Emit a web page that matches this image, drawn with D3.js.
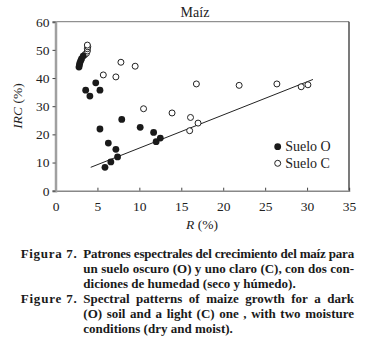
<!DOCTYPE html>
<html>
<head>
<meta charset="utf-8">
<script src="https://cdn.jsdelivr.net/npm/d3@7"></script>
<style>
  body { margin: 0; background: #fff; }
  svg text { font-family: "Liberation Serif", "DejaVu Serif", serif; }
</style>
</head>
<body>
<svg class="chart" width="365" height="345"></svg>
<script>
// Suelo O (filled)
var soilO_R   = [2.8, 2.85, 2.9, 3.0, 3.1, 3.3, 3.6, 4.1, 4.8, 5.3, 5.3, 7.9, 10.1, 11.7, 12.0, 12.5, 6.3, 7.2, 7.4, 6.6, 5.9]
var soilO_IRC = [43.9, 44.6, 45.3, 46.1, 46.8, 47.8, 35.7, 33.6, 38.3, 35.7, 21.9, 25.3, 22.5, 20.7, 17.4, 18.7, 16.9, 14.7, 12.0, 10.2, 8.3]
// Suelo C (open)
var soilC_R   = [3.5, 3.7, 3.8, 3.8, 3.85, 3.8, 5.7, 7.2, 7.8, 9.5, 16.8, 21.9, 26.4, 29.3, 30.1, 10.5, 13.9, 16.1, 16.0, 17.0]
var soilC_IRC = [48.3, 48.8, 49.6, 50.4, 51.1, 51.7, 41.1, 40.4, 45.6, 44.2, 37.9, 37.4, 37.9, 36.9, 37.6, 29.1, 27.6, 26.0, 21.3, 24.0]
// fitted line end points
var fitR   = [4.2, 30.7]
var fitIRC = [8.3, 39.5]

var xTicks = [0, 5, 10, 15, 20, 25, 30, 35]
var yTicks = [0, 10, 20, 30, 40, 50, 60]

var captionES = ["Patrones espectrales del crecimiento del maíz para",
                 "un suelo oscuro (O) y uno claro (C), con dos con-",
                 "diciones de humedad (seco y húmedo)."]
var captionEN = ["Spectral patterns of maize growth for a dark",
                 "(O) soil and a light (C) one , with two moisture",
                 "conditions (dry and moist)."]

var serif = "'Liberation Serif', 'DejaVu Serif', serif"

var margin = {top: 21.7, left: 55.5}
  , width = 293.5
  , height = 169

var svg = d3.select(".chart")
var g = svg.append("g")
  .attr("transform", "translate(" + margin.left + "," + margin.top + ")")

var x = d3.scaleLinear().domain([0, 35]).range([0, width])
var y = d3.scaleLinear().domain([0, 60]).range([height, 0])

// frame
g.append("line").attr("x1", 0).attr("x2", width).attr("y1", 0).attr("y2", 0)
  .attr("stroke", "#777").attr("stroke-width", 1)
g.append("line").attr("x1", width).attr("x2", width).attr("y1", 0).attr("y2", height)
  .attr("stroke", "#222").attr("stroke-width", 1.2)

// x axis, ticks pointing inside
var xAxis = g.append("g")
  .attr("transform", "translate(0," + height + ")")
  .call(d3.axisBottom(x).tickValues(xTicks).tickSize(-3).tickPadding(11))
xAxis.attr("font-family", serif).attr("font-size", 13.5)
xAxis.select(".domain").attr("stroke", "#888").attr("stroke-width", 1.5)
xAxis.selectAll(".tick line").attr("stroke", "#444")
xAxis.selectAll("text").attr("fill", "#222")

// y axis
var yAxis = g.append("g")
  .call(d3.axisLeft(y).tickValues(yTicks).tickSize(3).tickPadding(3))
yAxis.attr("font-family", serif).attr("font-size", 13.5)
yAxis.select(".domain").attr("stroke", "#a0a0a0").attr("stroke-width", 2.5)
yAxis.selectAll(".tick line").attr("stroke", "#444")
yAxis.selectAll("text").attr("fill", "#222")

// labels
svg.append("text")
  .attr("x", 195).attr("y", 16.5)
  .attr("text-anchor", "middle")
  .attr("font-family", serif)
  .attr("font-size", 14).attr("fill", "#222")
  .text("Maíz")

var ylab = svg.append("text")
  .attr("transform", "translate(22,106) rotate(-90)")
  .attr("text-anchor", "middle")
  .attr("font-family", serif)
  .attr("font-size", 13.5).attr("fill", "#222")
ylab.append("tspan").attr("font-style", "italic").text("IRC")
ylab.append("tspan").text(" (%)")

var xlab = svg.append("text")
  .attr("x", 202).attr("y", 229)
  .attr("text-anchor", "middle")
  .attr("font-family", serif)
  .attr("font-size", 13.5).attr("fill", "#222")
xlab.append("tspan").attr("font-style", "italic").text("R")
xlab.append("tspan").text(" (%)")

// fit line
g.append("line")
  .attr("x1", x(fitR[0])).attr("y1", y(fitIRC[0]))
  .attr("x2", x(fitR[1])).attr("y2", y(fitIRC[1]))
  .attr("stroke", "#222").attr("stroke-width", 1)

// points
g.selectAll("circle.c")
  .data(soilC_R)
  .enter().append("circle")
  .attr("class", "c")
  .attr("cx", d => x(d))
  .attr("cy", (d, i) => y(soilC_IRC[i]))
  .attr("r", 3)
  .attr("fill", "#fff")
  .attr("stroke", "#222")
  .attr("stroke-width", 1)

g.selectAll("circle.o")
  .data(soilO_R)
  .enter().append("circle")
  .attr("class", "o")
  .attr("cx", d => x(d))
  .attr("cy", (d, i) => y(soilO_IRC[i]))
  .attr("r", 3.4)
  .attr("fill", "#1a1a1a")

// legend
var legend = svg.append("g").attr("transform", "translate(277.7,146.7)")
  .attr("font-family", serif)
legend.append("circle").attr("r", 3.4).attr("fill", "#1a1a1a")
legend.append("text").attr("x", 7.5).attr("y", 4.5).attr("font-size", 14)
  .attr("fill", "#222").text("Suelo O")
legend.append("circle").attr("cy", 16.6).attr("r", 3).attr("fill", "#fff")
  .attr("stroke", "#222")
legend.append("text").attr("x", 7.5).attr("y", 21).attr("font-size", 14)
  .attr("fill", "#222").text("Suelo C")

// caption, justified lines (word spacing fitted to the column)
function captionBlock(label, lines, top) {
  var cap = svg.append("g")
    .attr("font-family", serif)
    .attr("font-weight", "bold").attr("font-size", 13).attr("fill", "#1a1a1a")
  var lab = cap.append("text").attr("x", 20.7).attr("y", top).text(label)
  var lw = lab.node().getComputedTextLength()
  lab.attr("letter-spacing", (56 - lw) / (label.length - 1))
  lines.forEach((line, i) => {
    var t = cap.append("text").attr("x", 83.3).attr("y", top + i * 15).text(line)
    var w = t.node().getComputedTextLength()
    var target = 354 - 83.3
    var spaces = line.split(" ").length - 1
    if (w > target) {
      t.attr("letter-spacing", (target - w) / line.length)
    } else if (i < lines.length - 1 && spaces > 0) {
      t.attr("word-spacing", (target - w) / spaces)
    }
  })
}
captionBlock("Figura 7.", captionES, 258)
captionBlock("Figure 7.", captionEN, 303)
</script>
</body>
</html>
